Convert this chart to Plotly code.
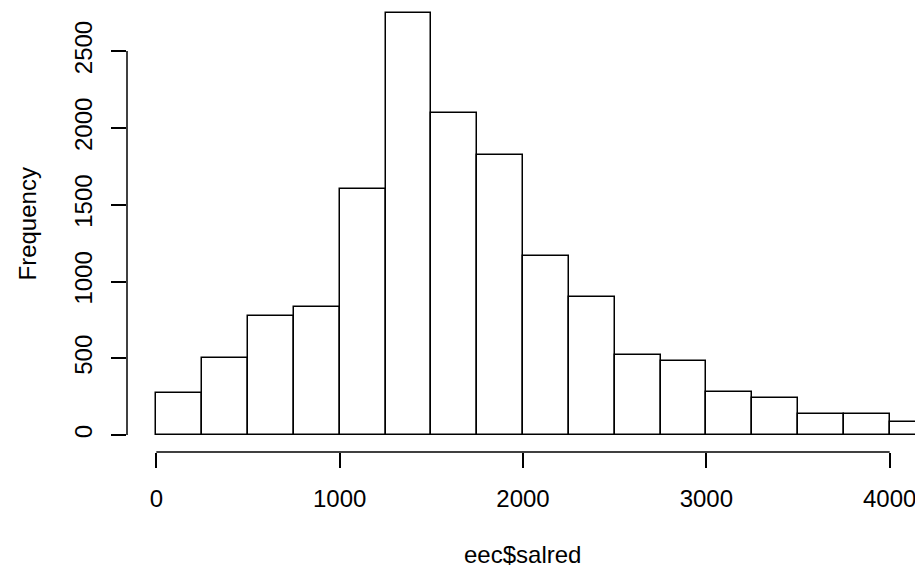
import plotly.graph_objects as go

# Histogram data (bin edges and counts)
breaks = [0, 250, 500, 750, 1000, 1250, 1500, 1750, 2000, 2250, 2500,
          2750, 3000, 3250, 3500, 3750, 4000, 4250]
counts = [271, 501, 777, 835, 1600, 2750, 2094, 1825, 1168, 898,
          521, 482, 278, 239, 139, 135, 85]
x_ticks = [0, 1000, 2000, 3000, 4000]
y_ticks = [0, 500, 1000, 1500, 2000, 2500]
x_title = "eec$salred"
y_title = "Frequency"

mids = [(breaks[i] + breaks[i + 1]) / 2 for i in range(len(counts))]
widths = [breaks[i + 1] - breaks[i] for i in range(len(counts))]

FONT = "Liberation Sans, Arial, Helvetica, sans-serif"
FS = 24
LW = 1.5
W, H = 915, 563
ML, MR, MT, MB = 119, 4, 0, 119
PW, PH = W - ML - MR, H - MT - MB

fig = go.Figure(go.Bar(
    x=mids, y=counts, width=widths,
    marker=dict(color="white", line=dict(color="black", width=LW)),
    hoverinfo="x+y",
))

fig.update_layout(
    width=W, height=H,
    margin=dict(l=ML, r=MR, t=MT, b=MB, pad=0),
    paper_bgcolor="white", plot_bgcolor="white",
    showlegend=False,
    font=dict(family=FONT, size=FS, color="black"),
    bargap=0,
)
fig.update_xaxes(
    range=[-160, 4160], tickvals=x_ticks, ticktext=[str(v) for v in x_ticks],
    ticks="outside", ticklen=15, tickwidth=LW, tickcolor="black",
    showgrid=False, zeroline=False, showline=False,
    ticklabelstandoff=10, tickfont=dict(size=FS),
)
fig.update_yaxes(
    range=[-110, -110 + PH / 0.1536], tickvals=y_ticks, ticktext=[str(v) for v in y_ticks],
    ticks="outside", ticklen=15, tickwidth=LW, tickcolor="black",
    showgrid=False, zeroline=False, showline=False, tickangle=-90,
    ticklabelstandoff=9, tickfont=dict(size=FS),
)
# detached R-style axis lines spanning the tick range
fig.add_shape(type="line", xref="x", yref="paper", x0=x_ticks[0], x1=x_ticks[-1],
              y0=0, y1=0, line=dict(color="black", width=LW))
fig.add_shape(type="line", xref="paper", yref="y", x0=0, x1=0,
              y0=y_ticks[0], y1=y_ticks[-1], line=dict(color="black", width=LW))

fig.add_annotation(text=x_title, xref="paper", yref="paper",
                   x=(514.5 - ML) / PW, y=-(546 - (H - MB)) / PH,
                   showarrow=False, xanchor="center", yanchor="middle",
                   font=dict(size=FS))
fig.add_annotation(text=y_title, xref="paper", yref="paper",
                   x=-(ML - 18.5) / PW, y=(H - MB - 216) / PH,
                   showarrow=False, xanchor="center", yanchor="middle", textangle=-90,
                   font=dict(size=FS))

fig.write_html("out.html")
